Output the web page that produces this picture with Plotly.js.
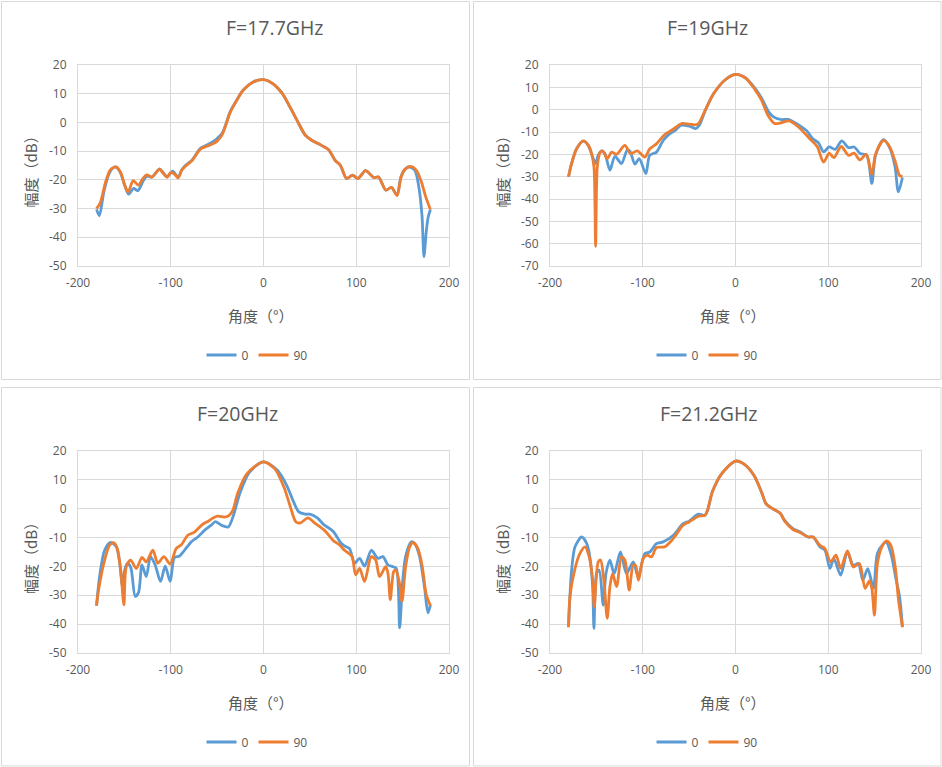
<!DOCTYPE html>
<html>
<head>
<meta charset="utf-8">
<script src="https://cdn.plot.ly/plotly-3.0.1.min.js"></script>
<style>
  html, body { margin: 0; padding: 0; background: #fff; }
  #chart { width: 942px; height: 767px; }
</style>
</head>
<body>
<div id="chart"></div>
<script>
// 方向图数据：四个频点，每个频点 0° / 90° 两个切面，读自原图。
const TITLES = ['F=17.7GHz', 'F=19GHz', 'F=20GHz', 'F=21.2GHz'];
const SERIES = ['0', '90'];
const X_TITLE = '角度（°）';
const Y_TITLE = '幅度（dB）';
const X_TICKS = [-200, -100, 0, 100, 200];

// F=17.7GHz
const ANG_177_0 = [-180, -177, -172, -166, -160, -155, -150, -145.5, -140, -135.5, -130, -126, -120, -116, -112, -108, -104, -98, -92, -88, -84, -77, -68, -61, -55, -50, -45, -41, -36, -29, -22, -11, 0, 10, 20, 28.5, 37, 45, 52, 62, 70, 77, 83, 89.5, 96, 102, 110, 119, 124, 132, 138, 144, 148.7, 156, 163, 168, 171, 173, 175.5, 177.5, 180];
const DB_177_0 = [-30.3, -32.5, -24, -17.5, -15.5, -17, -21.5, -25, -23, -23.8, -20.5, -18.7, -19, -17.5, -16.2, -17.5, -19, -17, -19, -16.5, -14.9, -13.1, -9, -7.9, -6.8, -5.6, -4, -1, 3.7, 7.7, 11.2, 14.1, 14.9, 13.5, 10.2, 5.4, 0.2, -4.4, -6.2, -7.9, -9.4, -13.1, -15, -19.5, -18.4, -19.5, -16.8, -19.2, -19, -23.6, -22.6, -25.3, -18.4, -15.5, -16.6, -23.6, -33, -46.7, -38, -33, -30.3];
const ANG_177_90 = [-180, -176, -170, -165, -159, -154, -150, -146, -140.5, -135, -130, -126, -120, -116, -112, -108, -104, -100, -96, -92, -88, -84, -77, -68, -61, -55, -50, -45, -41, -36, -29, -22, -11, 0, 10, 20, 28.5, 37, 45, 52, 62, 70, 77, 83, 89.5, 96, 102, 110, 119, 124, 132, 138, 144, 148, 152, 159, 165, 170, 175, 180];
const DB_177_90 = [-30, -28, -20.5, -16.5, -15.5, -17.5, -21.5, -24.2, -20.3, -21.8, -19.5, -18.3, -19, -17.5, -16.3, -17.8, -19, -17.4, -18, -19.3, -16.5, -15.2, -13.3, -9.3, -8.3, -7.5, -6.5, -4.5, -1.3, 3.4, 7.6, 11.2, 14.1, 14.9, 13.5, 10.2, 5.4, 0.2, -4.4, -6.2, -7.9, -9.4, -13.1, -15, -19.5, -18.4, -19.5, -16.8, -19.2, -19, -23.6, -22.6, -25.5, -19.5, -16.5, -15.3, -16.8, -20.5, -26, -30.3];

// F=19GHz
const ANG_19_0 = [-180, -176.7, -171.3, -164, -158.7, -154, -150.8, -148, -144.4, -140.8, -135.4, -130, -122.9, -116.8, -113.9, -108.5, -103.8, -96.7, -92.4, -85.2, -78, -72, -65, -59, -50, -43, -39, -32.5, -23.5, -11, 0, 10.5, 21.3, 28.5, 35.7, 41, 48.4, 57, 62.6, 70, 77, 83, 89.5, 95, 101, 107.4, 114.6, 121.8, 128, 134.3, 141.5, 147, 151, 159.5, 166.7, 172, 175.6, 180];
const DB_19_0 = [-30, -24.1, -17.5, -14.1, -16, -21.2, -24.1, -20.4, -18.5, -19.7, -27.1, -20.9, -24.1, -18.2, -18.5, -24.4, -21.9, -28.6, -20.4, -19, -13.8, -11.2, -9.3, -7, -7.4, -8.5, -7, -0.3, 7.2, 13.4, 15.8, 14.3, 9.4, 4.9, -1, -3.2, -4.4, -4.4, -5.5, -7.4, -9.5, -12.9, -14.9, -18.9, -16.7, -17.8, -14, -17, -16.7, -19.6, -20.4, -33, -20.4, -13.4, -17.4, -25.6, -36.8, -30.4];
const ANG_19_90 = [-180, -176.7, -171.3, -164, -158.7, -155.2, -152.6, -150.8, -149, -146.2, -143.3, -138.3, -133.6, -128.2, -119.3, -113.2, -106, -97.7, -92.4, -85.2, -76.2, -68, -58, -50, -44, -40, -33, -23.5, -11, 0, 10.5, 21, 28, 35, 42, 48, 58, 64, 70, 80, 88, 95, 101, 106, 114, 122, 128, 134, 141, 147, 151, 159.5, 166, 172, 177, 180];
const DB_19_90 = [-30, -24.1, -17.5, -14, -16, -19.7, -25.6, -61.2, -25.6, -19.4, -18.5, -21.9, -19, -20, -16, -19.7, -18.5, -21.2, -17.5, -15.3, -11.1, -9, -6.2, -6.5, -6.8, -6.3, -0.5, 7.2, 13.4, 15.8, 14.3, 9, 4.3, -2.5, -6.2, -6, -5, -6.5, -8.5, -13, -16.5, -23.5, -19.5, -21.5, -16.5, -20.5, -19.5, -22.5, -20, -29, -20, -13.8, -16.5, -23, -29.5, -30];

// F=20GHz
const ANG_20_0 = [-180, -176.7, -171.3, -164.8, -158.7, -155, -152.3, -149.5, -146.5, -143, -138.3, -134.7, -131, -126.4, -121.8, -116.8, -111, -106, -100.6, -96, -90.6, -85.2, -78, -70.8, -63.7, -56, -52, -45, -38, -33, -25, -15, 0, 15, 25, 32, 38, 45, 50, 58, 65, 75, 83.8, 88, 92.8, 98.2, 103.6, 109, 116.2, 123.4, 128.8, 134.2, 139.6, 143.2, 146.8, 149.6, 153.2, 159.4, 162.9, 168.3, 173.7, 177.3, 180];
const DB_20_0 = [-33.6, -23.5, -14.4, -11.7, -13.2, -18.9, -26.4, -21, -18.9, -20.5, -30.4, -29, -19.5, -23.5, -16.6, -19.5, -25.2, -19.9, -25.2, -16.9, -16.4, -14.4, -11.5, -9.8, -7.5, -5.6, -4.5, -5.8, -6.3, -2.9, 5.8, 12.7, 16.2, 13.3, 8.1, 2.7, -1.1, -1.9, -1.9, -3.2, -5.5, -7.8, -12, -13, -13.8, -18.9, -17.2, -19.9, -14.4, -17.2, -16.6, -19.5, -20.1, -20.7, -41.3, -27, -16.6, -11.5, -12, -16.6, -27.5, -36.1, -33.3];
const ANG_20_90 = [-180, -177.8, -171.3, -165.9, -161.2, -157.7, -154, -150.5, -148, -143.3, -137.2, -131, -126.4, -119.3, -113.9, -107.4, -100.6, -94.2, -88.8, -81.6, -74.4, -66, -60, -50, -42, -37, -33, -28, -18, 0, 12, 22, 29, 35, 40, 48, 55, 65.8, 74.8, 82, 87.4, 92.8, 95.7, 99.3, 103.6, 109, 116.2, 120.9, 125.2, 131.7, 134.2, 136.7, 140.3, 142.4, 146, 149.3, 153.2, 157.6, 161.2, 166.5, 171.2, 175.5, 180];
const DB_20_90 = [-33.6, -28.1, -17.8, -12.6, -11.8, -13.8, -21.2, -33.3, -20.1, -17.8, -20.7, -16.9, -18.4, -14.4, -18.9, -16.6, -19.2, -13.8, -12.6, -9.2, -8.1, -5.5, -4.4, -2.6, -2.9, -2.3, -0.5, 5.2, 12.1, 16.2, 13.9, 7.5, 0.6, -4.6, -4.9, -3.2, -4.9, -7.5, -10.9, -12.6, -14.4, -15.7, -16.6, -22.9, -20.7, -25.2, -16.6, -17.8, -23.5, -20.1, -22.4, -31.5, -21.8, -21.2, -24.7, -32.1, -20.1, -13.2, -11.7, -13.8, -20.1, -29.8, -33.6];

// F=21.2GHz
const ANG_212_0 = [-180, -176.7, -173, -165.9, -160.5, -157, -154, -152.6, -149.8, -147, -142.6, -139.7, -135.4, -130.8, -124, -117.5, -110.3, -105, -97.7, -92.4, -85.2, -78, -67, -56.5, -50, -40, -33, -30, -25, -15, 0, 10, 20, 28, 33, 40, 48, 53, 62, 69.3, 78.3, 83.8, 91, 96.4, 101.8, 106, 113.4, 120.6, 127, 132.5, 137.2, 142.6, 148.7, 153, 159.6, 162.5, 167.5, 173.3, 176.9, 180];
const DB_212_0 = [-40.9, -21.3, -13.2, -9.8, -12, -16.7, -27, -41.5, -22.5, -21.3, -33.4, -22.5, -17.8, -22.5, -15, -22.5, -18.4, -23.6, -15.5, -15, -12.1, -11.5, -9.2, -5.2, -4.3, -1.9, -2.3, -0.5, 5.8, 12.1, 16.5, 15.3, 11.5, 5.8, 1.7, 0, -1.5, -4, -6.9, -8, -9.8, -9.8, -13.2, -14.4, -20.7, -17.3, -23, -15, -19.6, -19, -24.8, -20.8, -27.5, -15.5, -12.1, -11.5, -15.5, -24.8, -30.5, -40.9];
const ANG_212_90 = [-180, -178.5, -173, -167.7, -162.3, -157.7, -154, -152.3, -148, -145.5, -141.9, -138.3, -135.4, -132.5, -128.2, -122.9, -119.3, -114.6, -110.3, -107.8, -104.6, -99.5, -95.2, -90.6, -85.2, -76.2, -67, -56.5, -50, -40, -33, -30, -25, -15, 0, 10, 20, 28, 33, 40, 48, 53, 62, 70, 78.3, 83.8, 91, 96.4, 102.5, 108.3, 113.4, 120.6, 127, 133.6, 139.7, 144.4, 147, 149.8, 153, 157.8, 162.5, 167.5, 172.2, 175.8, 180];
const DB_212_90 = [-41.1, -30.5, -20.7, -15.5, -13.2, -16.7, -24.8, -34, -18.4, -17.8, -24.8, -38, -27, -22.5, -27, -16.7, -17.8, -28.2, -19.6, -19.6, -24.8, -17.3, -16.1, -16.7, -13.5, -13.2, -10.3, -5.7, -4.6, -2.6, -2.3, -0.3, 5.8, 12.1, 16.5, 15.3, 11.5, 5.8, 1.7, 0, -1.5, -4.3, -7.2, -8.3, -9.8, -9.8, -12.7, -13.8, -18.4, -16.1, -20.7, -14.6, -20.2, -19, -27.6, -25, -27.6, -36.9, -19, -13.2, -11.2, -12.7, -20.2, -31.7, -41.1];

const DATA = [
  [[ANG_177_0, DB_177_0], [ANG_177_90, DB_177_90]],
  [[ANG_19_0, DB_19_0], [ANG_19_90, DB_19_90]],
  [[ANG_20_0, DB_20_0], [ANG_20_90, DB_20_90]],
  [[ANG_212_0, DB_212_0], [ANG_212_90, DB_212_90]],
];
const Y_RANGES = [[-50, 20], [-70, 20], [-50, 20], [-50, 20]];

// Excel 用的是普通连字符 "-"，Plotly 默认是 "−"，所以刻度文字自己给
const label = (v) => String(v);
const yTicks = ([lo, hi]) => {
  const out = [];
  for (let v = lo; v <= hi; v += 10) out.push(v);
  return out;
};

// 版面（像素），按 942x767 画布换算成 paper 坐标
const W = 942, H = 767;
const CJK = '"Noto Sans CJK SC", "Microsoft YaHei", sans-serif';
const LATIN = '"Open Sans", "Segoe UI", sans-serif';
const TXT = '#595959';
const GRID = '#d9d9d9';
const COLORS = ['#5b9bd5', '#ed7d31'];
const fx = (p) => p / W;
const fy = (p) => 1 - p / H;

// 每个子图：外框、绘图区、标题中心、图例中心
const BOXES = [
  { bx: [1.5, 469.5], by: [1.5, 379.5], px: [78, 449], py: [65, 266], tx: 274, ty: 28, lx: 257, ly: 355 },
  { bx: [473.5, 941], by: [1.5, 379.5], px: [550, 921], py: [65, 266], tx: 707, ty: 28, lx: 707, ly: 355 },
  { bx: [1.5, 469.5], by: [387.5, 766], px: [78, 449], py: [451, 653], tx: 237, ty: 413, lx: 257, ly: 742 },
  { bx: [473.5, 941], by: [387.5, 766], px: [550, 921], py: [451, 653], tx: 708, ty: 413, lx: 707, ly: 742 },
];

const traces = [];
const layout = {
  width: W, height: H,
  margin: { l: 0, r: 0, t: 0, b: 0 },
  paper_bgcolor: '#fff',
  plot_bgcolor: '#fff',
  font: { family: LATIN, color: TXT, size: 12 },
  showlegend: true,
  shapes: [],
  annotations: [],
};

BOXES.forEach((b, i) => {
  const sfx = i === 0 ? '' : String(i + 1);
  const legendId = 'legend' + sfx;
  DATA[i].forEach(([xs, ys], k) => {
    traces.push({
      x: xs, y: ys, name: SERIES[k],
      xaxis: 'x' + sfx, yaxis: 'y' + sfx,
      legend: legendId,
      mode: 'lines',
      line: { color: COLORS[k], width: 2.8, shape: 'spline', smoothing: 0.8 },
      hoverinfo: 'skip',
    });
  });

  const yt = yTicks(Y_RANGES[i]);
  layout['xaxis' + sfx] = {
    domain: [fx(b.px[0]), fx(b.px[1])], anchor: 'y' + sfx,
    range: [-200, 200], tickmode: 'array', tickvals: X_TICKS, ticktext: X_TICKS.map(label),
    showgrid: true, gridcolor: GRID, gridwidth: 1, zeroline: false,
    showline: true, linecolor: GRID, linewidth: 1, mirror: true,
    ticks: 'outside', ticklen: 6, tickcolor: 'rgba(0,0,0,0)',
    tickfont: { size: 12, color: TXT, family: LATIN },
  };
  layout['yaxis' + sfx] = {
    domain: [fy(b.py[1]), fy(b.py[0])], anchor: 'x' + sfx,
    range: Y_RANGES[i], tickmode: 'array', tickvals: yt, ticktext: yt.map(label),
    showgrid: true, gridcolor: GRID, gridwidth: 1, zeroline: false,
    showline: true, linecolor: GRID, linewidth: 1, mirror: true,
    ticks: 'outside', ticklen: 8, tickcolor: 'rgba(0,0,0,0)',
    tickfont: { size: 12, color: TXT, family: LATIN },
  };
  layout[legendId] = {
    orientation: 'h', x: fx(b.lx), y: fy(b.ly), xanchor: 'center', yanchor: 'middle',
    font: { size: 12, color: TXT, family: LATIN },
    bgcolor: 'rgba(0,0,0,0)', itemwidth: 30, tracegroupgap: 0,
  };

  layout.shapes.push({
    type: 'rect', xref: 'paper', yref: 'paper', layer: 'below',
    x0: fx(b.bx[0]), x1: fx(b.bx[1]), y0: fy(b.by[1]), y1: fy(b.by[0]),
    line: { color: GRID, width: 1 }, fillcolor: 'rgba(0,0,0,0)',
  });

  const midX = (b.px[0] + b.px[1]) / 2;
  const midY = (b.py[0] + b.py[1]) / 2;
  layout.annotations.push(
    { text: TITLES[i], xref: 'paper', yref: 'paper', x: fx(b.tx), y: fy(b.ty),
      xanchor: 'center', yanchor: 'middle', showarrow: false,
      font: { size: 19.5, color: TXT, family: LATIN } },
    { text: X_TITLE, xref: 'paper', yref: 'paper', x: fx(midX - 3), y: fy(b.py[1] + 49),
      xanchor: 'center', yanchor: 'middle', showarrow: false,
      font: { size: 15, color: TXT, family: CJK } },
    { text: Y_TITLE, xref: 'paper', yref: 'paper', x: fx(b.px[0] - 48), y: fy(midY + 3),
      xanchor: 'center', yanchor: 'middle', showarrow: false, textangle: -90,
      font: { size: 15, color: TXT, family: CJK } },
  );
});

Plotly.newPlot('chart', traces, layout, { displayModeBar: false, staticPlot: true });
</script>
</body>
</html>
